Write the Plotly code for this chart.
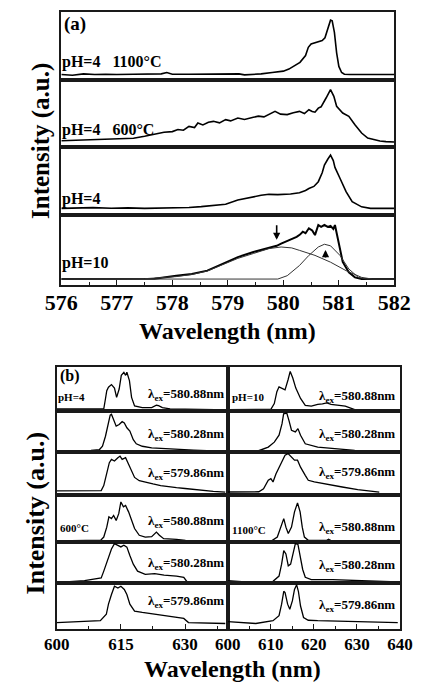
import plotly.graph_objects as go

# ---------------- data: panel (a) ----------------
wl_a1 = [576.0, 576.2, 576.4, 576.6, 576.8, 577.0, 577.3, 577.6, 577.8, 577.9, 578.0, 578.3, 578.6, 578.9, 579.2,
         579.3, 579.45, 579.6, 579.8, 580.0, 580.1, 580.2, 580.3, 580.4, 580.45, 580.5, 580.6, 580.7, 580.75, 580.8,
         580.85, 580.88, 580.92, 580.96, 581.0, 581.05, 581.1, 581.2, 581.5, 582.0]
int_a1 = [0.08, 0.07, 0.09, 0.08, 0.085, 0.08, 0.085, 0.085, 0.09, 0.11, 0.085, 0.085, 0.09, 0.085, 0.09,
          0.075, 0.08, 0.09, 0.11, 0.13, 0.16, 0.21, 0.26, 0.36, 0.48, 0.53, 0.56, 0.58, 0.62, 0.76,
          0.88, 0.87, 0.70, 0.40, 0.20, 0.11, 0.085, 0.08, 0.08, 0.08]

wl_a2 = [576.0, 576.2, 576.4, 576.7, 577.0, 577.3, 577.5, 577.7, 577.85, 578.0, 578.1, 578.2, 578.3, 578.4, 578.46,
         578.55, 578.65, 578.74, 578.85, 578.96, 579.05, 579.18, 579.3, 579.46, 579.55, 579.65, 579.74, 579.85, 579.95,
         580.07, 580.18, 580.29, 580.38, 580.46, 580.52, 580.57, 580.63, 580.68, 580.77, 580.85, 580.91, 580.96, 581.07,
         581.18, 581.29, 581.41, 581.52, 581.63, 581.74, 581.85, 582.0]
int_a2 = [0.094, 0.10, 0.109, 0.11, 0.124, 0.13, 0.16, 0.19, 0.22, 0.23, 0.26, 0.25, 0.308, 0.29, 0.358,
          0.33, 0.37, 0.383, 0.36, 0.408, 0.39, 0.433, 0.41, 0.443, 0.46, 0.45, 0.483, 0.532, 0.49,
          0.483, 0.51, 0.532, 0.50, 0.557, 0.53, 0.52, 0.58, 0.60, 0.731, 0.856, 0.756, 0.607, 0.507,
          0.458, 0.333, 0.209, 0.134, 0.11, 0.09, 0.08, 0.075]

wl_a3 = [576.0, 576.57, 576.9, 577.2, 577.5, 577.8, 578.07, 578.3, 578.52, 578.75, 578.96, 579.18, 579.3, 579.46,
         579.6, 579.74, 579.9, 580.13, 580.29, 580.4, 580.46, 580.55, 580.63, 580.7, 580.74, 580.8, 580.85, 580.9,
         580.93, 581.02, 581.13, 581.24, 581.41, 581.57, 581.8, 582.0]
int_a3 = [0.098, 0.108, 0.10, 0.105, 0.098, 0.10, 0.098, 0.11, 0.123, 0.14, 0.157, 0.22, 0.24, 0.27,
          0.29, 0.304, 0.30, 0.309, 0.328, 0.36, 0.39, 0.42, 0.49, 0.62, 0.735, 0.82, 0.88, 0.80,
          0.70, 0.54, 0.343, 0.196, 0.12, 0.098, 0.098, 0.098]

wl_a4 = [576.0, 576.5, 576.8, 577.0, 577.3, 577.68, 578.07, 578.35, 578.63, 578.91, 579.18, 579.46, 579.6, 579.74,
         579.88, 579.96, 580.07, 580.15, 580.24, 580.3, 580.35, 580.4, 580.46, 580.52, 580.57, 580.63, 580.68, 580.74,
         580.8, 580.85, 580.9, 580.93, 580.99, 581.07, 581.18, 581.29, 581.41, 581.6, 582.0]
int_a4 = [0.085, 0.085, 0.095, 0.085, 0.085, 0.09, 0.133, 0.157, 0.205, 0.302, 0.399, 0.471, 0.50, 0.529,
          0.56, 0.59, 0.626, 0.65, 0.688, 0.72, 0.761, 0.74, 0.81, 0.78, 0.713, 0.857, 0.83, 0.857,
          0.83, 0.845, 0.80, 0.857, 0.64, 0.33, 0.181, 0.109, 0.085, 0.085, 0.085]

wl_fit1 = [576.0, 577.5, 578.07, 578.35, 578.63, 578.91, 579.18, 579.46, 579.74, 579.96, 580.15, 580.29, 580.57,
           580.85, 581.13, 581.41, 581.6, 582.0]
int_fit1 = [0.085, 0.09, 0.12, 0.15, 0.2, 0.29, 0.38, 0.45, 0.52, 0.543, 0.53, 0.495, 0.423,
            0.326, 0.205, 0.109, 0.085, 0.085]
wl_fit2 = [576.0, 579.9, 580.07, 580.29, 580.46, 580.63, 580.74, 580.85, 581.02, 581.18, 581.35, 581.5, 582.0]
int_fit2 = [0.085, 0.085, 0.133, 0.278, 0.423, 0.543, 0.582, 0.56, 0.423, 0.229, 0.109, 0.085, 0.085]

labels_a = ["pH=4\u00a0\u00a0\u00a01100°C", "pH=4\u00a0\u00a0\u00a0600°C", "pH=4", "pH=10"]
ticks_a = [576, 577, 578, 579, 580, 581, 582]

# ---------------- data: panel (b) ----------------
wl_bl1 = [600, 603, 606, 609, 611.0, 611.35, 611.7, 612.1, 612.8, 613.5, 614.0, 614.6, 615.1, 615.7, 616.1, 616.4,
          617.0, 617.5, 618.2, 620.0, 622.2, 623.3, 623.8, 624.7, 626.5, 630, 633, 637]
int_bl1 = [0.05, 0.05, 0.045, 0.05, 0.05, 0.25, 0.46, 0.54, 0.6, 0.52, 0.31, 0.5, 0.81, 0.88, 0.81, 0.88,
           0.69, 0.31, 0.115, 0.077, 0.077, 0.13, 0.12, 0.077, 0.05, 0.04, 0.04, 0.03]
wl_bl2 = [600, 604, 608, 610.0, 610.7, 611.4, 612.1, 612.5, 612.8, 613.2, 613.9, 614.6, 615.3, 615.8, 616.4,
          617.1, 617.9, 618.6, 620.0, 622.2, 625, 628.0, 632, 635.1, 639.4]
int_bl2 = [0.033, 0.035, 0.04, 0.06, 0.14, 0.385, 0.71, 0.9, 0.92, 0.80, 0.63, 0.67, 0.74, 0.71, 0.59,
           0.51, 0.30, 0.20, 0.14, 0.10, 0.08, 0.057, 0.045, 0.033, 0.01]
wl_bl3 = [600, 604, 608, 610.4, 611.0, 611.7, 612.3, 612.8, 613.5, 614.3, 614.8, 615.3, 616.1, 616.8, 617.5,
          618.2, 619.3, 620.7, 622.5, 624.3, 626, 628.0, 630, 631.5, 634, 636.6, 639.4]
int_bl3 = [0.05, 0.055, 0.05, 0.06, 0.18, 0.46, 0.74, 0.82, 0.78, 0.86, 0.90, 0.82, 0.86, 0.70, 0.54,
           0.38, 0.30, 0.26, 0.22, 0.18, 0.15, 0.13, 0.11, 0.09, 0.07, 0.04, 0.02]
wl_br1 = [600, 604, 608, 610.0, 610.8, 611.4, 611.9, 612.6, 613.3, 614.0, 614.5, 615.1, 615.8, 616.9, 618.0,
          619.4, 620.9, 622.0, 623.0, 624.0, 625.2, 627.3, 629.5]
int_br1 = [0.03, 0.035, 0.03, 0.04, 0.17, 0.44, 0.55, 0.52, 0.48, 0.71, 0.90, 0.75, 0.52, 0.285, 0.13,
           0.11, 0.15, 0.16, 0.185, 0.15, 0.13, 0.11, 0.03]
wl_br2 = [600, 604, 607, 609.4, 610.8, 611.9, 612.6, 612.97, 613.7, 614.2, 614.8, 615.7, 616.3, 616.9, 618.0,
          620.9, 624.4, 629.5, 633.0, 637.0]
int_br2 = [0.025, 0.03, 0.025, 0.12, 0.24, 0.41, 0.69, 0.93, 0.95, 0.77, 0.53, 0.49, 0.57, 0.41, 0.20,
           0.12, 0.08, 0.04, 0.025, 0.02]
wl_br3 = [600, 604, 607.2, 608.3, 609.4, 610.0, 610.5, 611.2, 612.3, 613.3, 614.0, 614.8, 615.5, 616.2, 616.9,
          618.0, 618.7, 620.1, 623.0, 626.6, 630.2, 633.8, 635.2]
int_br3 = [0.024, 0.03, 0.03, 0.1, 0.31, 0.35, 0.27, 0.47, 0.72, 0.92, 0.96, 0.88, 0.80, 0.80, 0.63,
           0.43, 0.31, 0.27, 0.21, 0.146, 0.08, 0.03, 0.02]
wl_bl4 = [600, 604, 608, 610.3, 611.0, 611.7, 612.2, 612.8, 613.3, 613.9, 614.5, 615.0, 615.6, 616.1, 616.8,
          617.5, 618.2, 619.3, 620.7, 622.2, 623.3, 624.0, 625.0, 628.0, 630.1]
int_bl4 = [0.022, 0.03, 0.025, 0.04, 0.11, 0.33, 0.56, 0.52, 0.59, 0.48, 0.63, 0.89, 0.78, 0.81, 0.67,
           0.48, 0.30, 0.15, 0.11, 0.12, 0.22, 0.15, 0.074, 0.06, 0.037]
wl_bl5 = [600, 603, 606.5, 610.4, 611.0, 612.1, 612.8, 613.5, 614.3, 615.0, 615.7, 616.4, 617.1, 617.9, 618.9,
          620.7, 622.9, 625.1, 628.0, 629.7, 630.5, 634, 639.4]
int_bl5 = [0.025, 0.03, 0.058, 0.125, 0.29, 0.625, 0.83, 0.96, 0.92, 0.88, 0.92, 0.875, 0.67, 0.46, 0.29,
           0.21, 0.23, 0.19, 0.17, 0.14, 0.025, 0.02, 0.018]
wl_bl6 = [600, 604, 610.2, 611.6, 612.1, 612.8, 613.5, 614.3, 615.0, 615.8, 616.4, 617.1, 618.2, 620.0, 622.9,
          625.1, 628.0, 629.7, 630.8, 635, 639.4]
int_bl6 = [0.14, 0.15, 0.18, 0.32, 0.54, 0.75, 0.93, 0.89, 0.93, 0.86, 0.75, 0.54, 0.39, 0.36, 0.32,
           0.29, 0.26, 0.23, 0.14, 0.13, 0.12]
wl_br4 = [600, 605, 610, 611.5, 612.1, 613.0, 613.5, 614.05, 614.8, 615.5, 616.2, 616.8, 617.3, 617.8, 618.7,
          623.0, 623.4, 624.0, 630, 639.5]
int_br4 = [0.015, 0.02, 0.015, 0.11, 0.26, 0.52, 0.33, 0.19, 0.33, 0.67, 0.87, 0.67, 0.33, 0.11, 0.037,
           0.037, 0.06, 0.03, 0.02, 0.015]
wl_br5 = [600, 605, 607, 610.5, 611.9, 612.5, 613.0, 613.5, 614.05, 614.6, 615.3, 615.7, 616.3, 616.8, 617.4,
          618.0, 619.4, 624.4, 631.6, 639.5]
int_br5 = [0.058, 0.025, 0.005, 0.04, 0.17, 0.46, 0.79, 0.71, 0.42, 0.46, 0.79, 0.96, 0.94, 0.67, 0.33,
           0.14, 0.083, 0.083, 0.058, 0.025]
wl_br6 = [600, 603.6, 606.5, 610.5, 611.9, 612.5, 613.0, 613.3, 613.9, 614.4, 615.0, 615.5, 616.0, 616.4, 616.9,
          617.6, 618.7, 620.9, 628.0, 639.5]
int_br6 = [0.16, 0.14, 0.12, 0.18, 0.29, 0.54, 0.82, 0.79, 0.54, 0.43, 0.61, 0.86, 0.96, 0.82, 0.5,
           0.25, 0.19, 0.18, 0.16, 0.14]

ex_labels = ["580.88nm", "580.28nm", "579.86nm"]

# ---------------- layout helpers ----------------
W, H = 427, 684
LC = "#1a1a1a"
FONT = "Liberation Serif"


def fx(p):
    return p / W


def fy(p):
    return 1 - p / H


fig = go.Figure()
layout = dict(width=W, height=H, margin=dict(l=0, r=0, t=0, b=0),
              paper_bgcolor="white", plot_bgcolor="white", showlegend=False)


def add_panel(idx, xpx, ypx, xrange, bottom, dtick=None, tick0=None, mdtick=None, tsize=20, standoff=0):
    sfx = "" if idx == 1 else str(idx)
    xa = dict(domain=[fx(xpx[0]), fx(xpx[1])], range=xrange, anchor="y" + sfx,
              showline=True, linecolor=LC, linewidth=1.5, mirror=True,
              showgrid=False, zeroline=False)
    if bottom:
        xa.update(ticks="inside", ticklen=5, tickwidth=1.3, tickcolor=LC,
                  tickmode="linear", dtick=dtick, tick0=tick0, ticklabelstandoff=standoff,
                  tickfont=dict(family=FONT, size=tsize, color="black", weight="bold"),
                  minor=dict(ticks="inside", ticklen=3, tickwidth=1, tickcolor=LC, dtick=mdtick, tick0=tick0))
    else:
        xa.update(showticklabels=False, ticks="")
    ya = dict(domain=[fy(ypx[1]), fy(ypx[0])], range=[0, 1], anchor="x" + sfx,
              showline=True, linecolor=LC, linewidth=1.5, mirror=True,
              showgrid=False, zeroline=False, showticklabels=False, ticks="")
    layout["xaxis" + sfx] = xa
    layout["yaxis" + sfx] = ya
    return "x" + sfx, "y" + sfx


def add_line(xr, yr, xs, ys, width=1.4, color="black"):
    fig.add_trace(go.Scatter(x=xs, y=ys, mode="lines", xaxis=xr, yaxis=yr,
                             line=dict(color=color, width=width), hoverinfo="skip"))


# panel (a)
a_rows = [12, 80, 147, 215, 285]
a_data = [(wl_a1, int_a1), (wl_a2, int_a2), (wl_a3, int_a3), (wl_a4, int_a4)]
a_refs = []
for i in range(4):
    xr, yr = add_panel(i + 1, (49, 409), (a_rows[i], a_rows[i + 1]), [576, 582], i == 3,
                       dtick=1, tick0=576, mdtick=0.5, tsize=22, standoff=-3)
    a_refs.append((xr, yr))
    add_line(xr, yr, a_data[i][0], a_data[i][1], width=2.0 if i == 3 else 1.6)
add_line(a_refs[3][0], a_refs[3][1], wl_fit1, int_fit1, width=1.0, color="#333")
add_line(a_refs[3][0], a_refs[3][1], wl_fit2, int_fit2, width=1.0, color="#333")

# panel (b)
b_rows = [(367, 411), (411, 452), (452, 493), (497, 542), (542, 583), (583, 629)]
bl = [(wl_bl1, int_bl1), (wl_bl2, int_bl2), (wl_bl3, int_bl3), (wl_bl4, int_bl4), (wl_bl5, int_bl5), (wl_bl6, int_bl6)]
br = [(wl_br1, int_br1), (wl_br2, int_br2), (wl_br3, int_br3), (wl_br4, int_br4), (wl_br5, int_br5), (wl_br6, int_br6)]
for i in range(6):
    xr, yr = add_panel(5 + i, (44, 229), b_rows[i], [600, 640], i == 5,
                       dtick=15, tick0=600, mdtick=7.5, tsize=17, standoff=-1)
    add_line(xr, yr, bl[i][0], bl[i][1], width=1.3)
    xr, yr = add_panel(11 + i, (229, 415), b_rows[i], [600, 640], i == 5,
                       dtick=10, tick0=600, mdtick=5, tsize=17, standoff=-1)
    add_line(xr, yr, br[i][0], br[i][1], width=1.3)

ann = []


def txt(text, xp, yp, size, anchor="left", angle=0):
    ann.append(dict(text=text, x=fx(xp), y=fy(yp), xref="paper", yref="paper",
                    xanchor=anchor, yanchor="middle", showarrow=False, textangle=angle,
                    font=dict(family=FONT, size=size, color="black", weight="bold")))


# panel (a) texts
txt("(a)", 50, 24, 19)
a_label_y = [62, 130, 199, 263]
for lab, yv in zip(labels_a, a_label_y):
    txt(lab, 48, yv, 16)
txt("Intensity (a.u.)", 27, 141, 25, anchor="center", angle=-90)
txt("Wavelength (nm)", 229, 331, 24, anchor="center")

# arrows on pH=10 curve
for xv, yv, ayv in [(579.88, 0.645, -16), (580.76, 0.50, 9)]:
    ann.append(dict(x=xv, y=yv, xref=a_refs[3][0], yref=a_refs[3][1], ax=0, ay=ayv,
                    showarrow=True, arrowhead=2, arrowsize=0.9, arrowwidth=1.6, arrowcolor="black", text=""))

# panel (b) texts
txt("(b)", 45, 376, 16)
txt("pH=4", 43, 397, 11)
txt("pH=10", 231, 397, 11)
txt("600°C", 45, 528, 11)
txt("1100°C", 231, 530, 11)
left_y = [394, 434, 473, 521, 563, 601]
right_y = [396, 434, 472, 527, 565, 605]
for k in range(6):
    lab = "λ<sub>ex</sub>=" + ex_labels[k % 3]
    txt(lab, 141, left_y[k], 13)
    txt(lab, 325, right_y[k], 13)
txt("Intensity (a.u.)", 21, 513, 26, anchor="center", angle=-90)
txt("Wavelength (nm)", 234, 669, 24, anchor="center")

layout["annotations"] = ann
fig.update_layout(**layout)
fig.write_html("out.html")
